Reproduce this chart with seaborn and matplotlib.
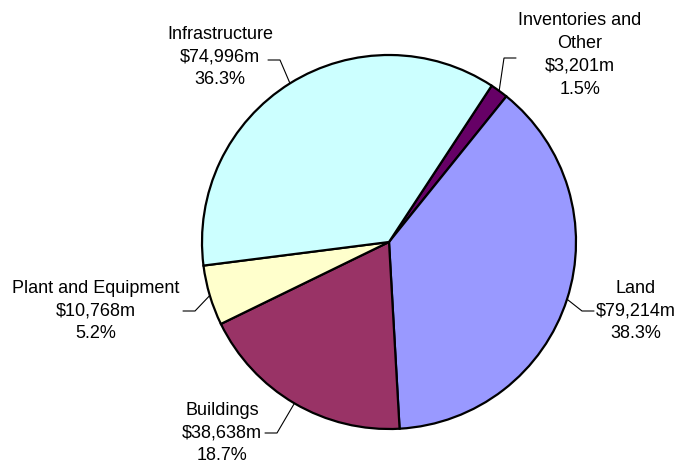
import numpy as np
import matplotlib
matplotlib.use("Agg")
import matplotlib.pyplot as plt
import seaborn as sns

# Asset categories, clockwise from the top-right wedge
categories = ["Inventories and\nOther", "Land", "Buildings", "Plant and Equipment", "Infrastructure"]
values = [3201, 79214, 38638, 10768, 74996]  # $m
colors = ["#660066", "#9999FF", "#993366", "#FFFFCC", "#CCFFFF"]

sns.set_theme(style="white")
plt.rcParams["font.family"] = ["Liberation Sans", "DejaVu Sans"]

W, H = 680, 463
fig = plt.figure(figsize=(W / 100, H / 100), dpi=100)
ax = fig.add_axes([0, 0, 1, 1])

# pixel frame of the pie
cx, cy, R = 389, 242, 187


def px(x, y):
    return (x - cx) / R, (cy - y) / R


start = 90 - 33.3
wedges, _ = ax.pie(values, colors=colors, startangle=start, counterclock=False,
                   radius=1.0, center=(0, 0), frame=True,
                   wedgeprops=dict(edgecolor="black", linewidth=1.6))
ax.set_xlim(-cx / R, (W - cx) / R)
ax.set_ylim(-(H - cy) / R, cy / R)
ax.set_aspect("auto")
ax.axis("off")

total = sum(values)
# text centres (pixels) and the side of the text the leader meets
label_pos = [(580, 55, "left", 516, 58),
             (636, 311, "left", 594, 311),
             (222, 433, "right", 265, 433),
             (96, 311, "right", 183, 311),
             (220, 57, "right", 268, 60)]

for w, cat, v, (lx, ly, side, ax_px, ay_px) in zip(wedges, categories, values, label_pos):
    text = f"{cat}\n${v:,}m\n{v / total * 100:.1f}%"
    tx, ty = px(lx, ly)
    ax.text(tx, ty, text, ha="center", va="center", fontsize=13,
            linespacing=1.45, color="black")
    mid = np.deg2rad((w.theta1 + w.theta2) / 2)
    ex, ey = np.cos(mid), np.sin(mid)
    a1 = px(ax_px, ay_px)
    step = 12 if side == "right" else -12
    a2 = px(ax_px + step, ay_px)
    ax.plot([a1[0], a2[0], ex], [a1[1], a2[1], ey], color="black", lw=0.8,
            solid_joinstyle="miter")

fig.savefig("out.png", dpi=100, facecolor="white")
